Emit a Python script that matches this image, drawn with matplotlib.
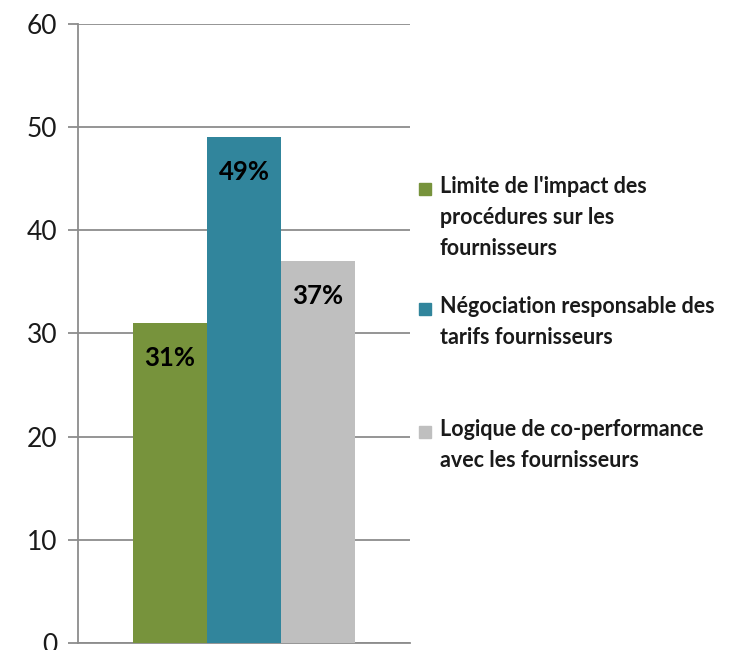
import matplotlib.pyplot as plt
from matplotlib.patches import Rectangle

# -----------------------------------
# Data
# -----------------------------------

categories = [
    "Limite de l'impact des\nprocédures sur les\nfournisseurs",
    "Négociation responsable des\ntarifs fournisseurs",
    "Logique de co-performance\navec les fournisseurs",
]
values = [31, 49, 37]
value_labels = ["31%", "49%", "37%"]
colors = ["#77933C", "#31859C", "#BFBFBF"]
yticks = [0, 10, 20, 30, 40, 50, 60]

plt.rcParams["font.family"] = ["Lato", "DejaVu Sans"]

fig = plt.figure(figsize=(7.33, 6.5), dpi=100)
ax = fig.add_axes([0.1064, 0.0108, 0.4529, 0.9523])

x = list(range(len(values)))
ax.bar(x, values, width=1.0, color=colors, zorder=3)

for xi, v, lab in zip(x, values, value_labels):
    ax.annotate(
        lab, (xi, v),
        xytext=(0, -25), textcoords="offset points",
        ha="center", va="center",
        fontsize=18.5, fontweight="bold", color="black", zorder=4
    )

ax.set_xlim(-1.243, 3.243)
ax.set_ylim(0, 60)
ax.set_yticks(yticks)
ax.set_xticks([])
ax.yaxis.grid(True, color="#8C8C8C", linewidth=1.3, zorder=0)
ax.tick_params(axis="y", length=7, width=1.3, color="#8C8C8C",
               labelsize=19, pad=8, labelcolor="#1a1a1a")

for side in ["top", "right"]:
    ax.spines[side].set_visible(False)
ax.spines["left"].set_color("#8C8C8C")
ax.spines["left"].set_linewidth(1.3)
ax.spines["bottom"].set_color("#8C8C8C")
ax.spines["bottom"].set_linewidth(1.3)
ax.spines["bottom"].set_zorder(0)

# -----------------------------------
# Legend (first line aligned with marker)
# -----------------------------------

legend_y = [189, 309, 432]
for lab, col, ypx in zip(categories, colors, legend_y):
    yf = 1 - ypx / 650
    fig.patches.append(Rectangle(
        (419 / 733, yf - 6 / 650), 12 / 733, 12 / 650,
        transform=fig.transFigure, color=col
    ))
    fig.text(
        440 / 733, yf + 13 / 650, lab,
        ha="left", va="top", fontsize=15.5, fontweight="bold",
        color="#1a1a1a", linespacing=1.6
    )

plt.savefig("out.png", dpi=100)
